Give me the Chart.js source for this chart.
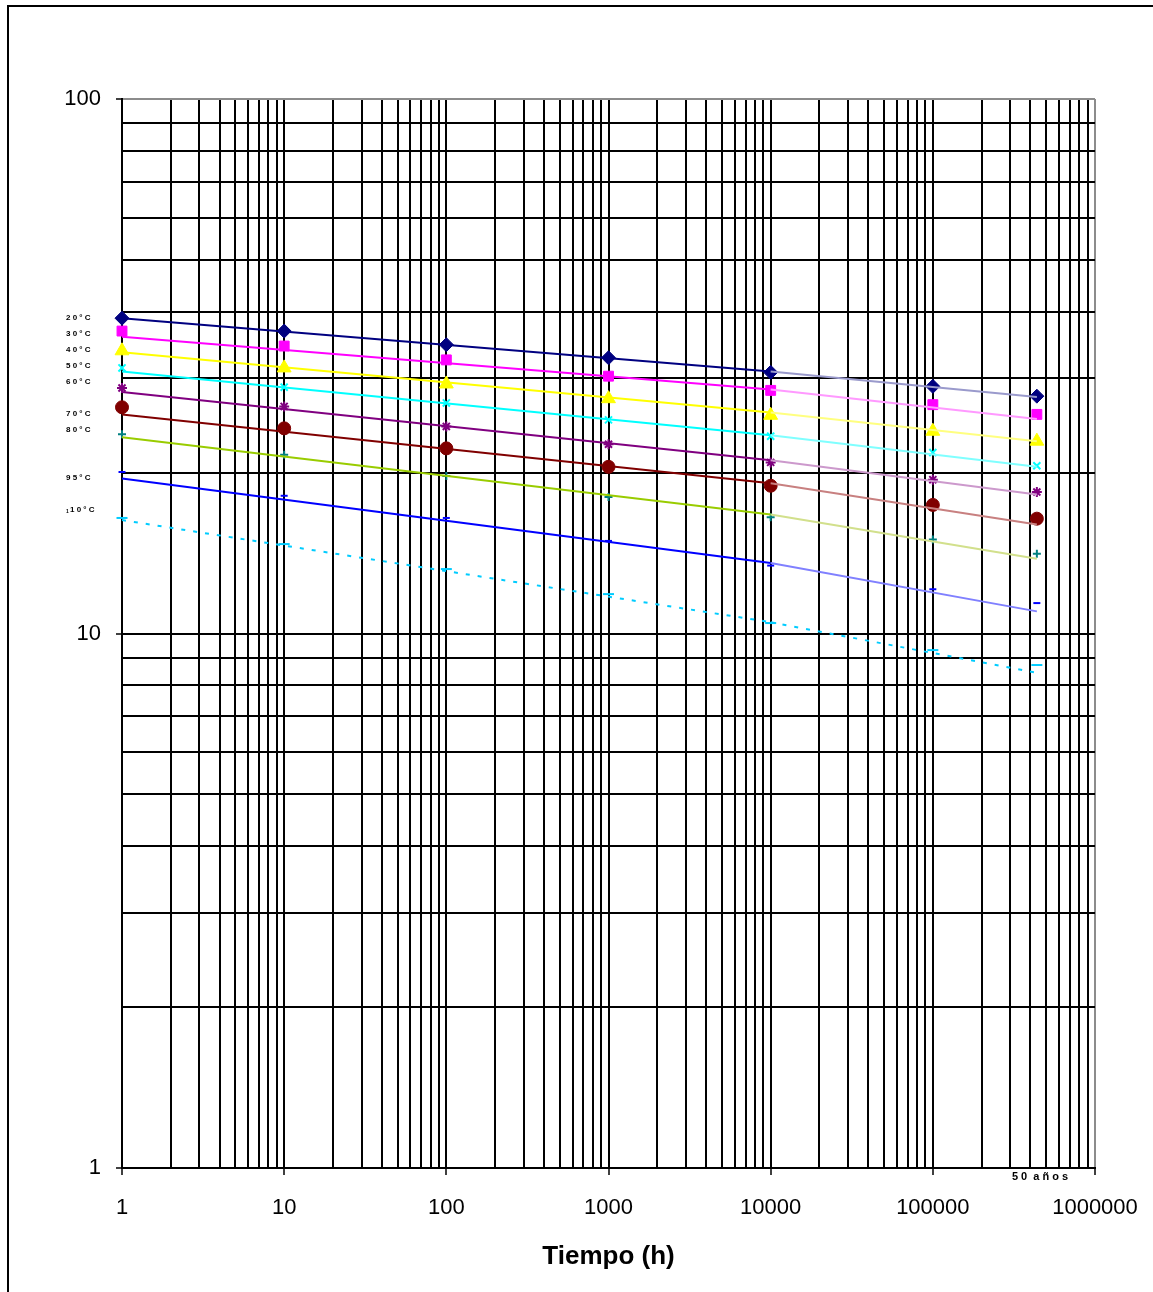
<!DOCTYPE html>
<html>
<head>
<meta charset="utf-8">
<script src="https://cdn.jsdelivr.net/npm/chart.js@4/dist/chart.umd.min.js"></script>
<style>
  html, body { margin: 0; padding: 0; background: #fff; overflow: hidden; }
  #wrap { position: relative; width: 1153px; height: 1292px; }
  #frame {
    position: absolute; left: 7px; top: 5px; width: 1200px; height: 1400px;
    border-left: 2px solid #000; border-top: 2px solid #000; pointer-events: none;
  }
  canvas { position: absolute; left: 0; top: 0; }
</style>
</head>
<body>
<div id="wrap">
  <canvas id="chart" width="1153" height="1292"></canvas>
  <div id="frame"></div>
</div>
<script>
'use strict';

// ── Data ─────────────────────────────────────────────────────────
const TEMPS = ['20 °C', '30 °C', '40 °C', '50 °C', '60 °C', '70 °C', '80 °C', '95 °C', '110 °C'];

// measured points (hours)
const HOURS = [1, 10, 100, 1000, 10000, 100000, 438000];

const POINTS_20  = [38.9, 36.8, 34.7, 32.8, 30.8, 29.0, 27.8];
const POINTS_30  = [36.8, 34.5, 32.5, 30.3, 28.5, 26.8, 25.7];
const POINTS_40  = [33.8, 31.4, 29.3, 27.5, 25.6, 23.9, 22.9];
const POINTS_50  = [31.4, 28.9, 27.0, 25.1, 23.4, 21.8, 20.6];
const POINTS_60  = [28.8, 26.6, 24.4, 22.6, 20.9, 19.4, 18.4];
const POINTS_70  = [26.5, 24.2, 22.2, 20.5, 18.9, 17.4, 16.4];
const POINTS_80  = [23.6, 21.6, 19.7, 18.0, 16.5, 15.0, 14.1];
const POINTS_95  = [20.05, 18.1, 16.45, 14.9, 13.4, 12.1, 11.4];
const POINTS_110 = [16.45, 14.7, 13.2, 11.85, 10.46, 9.31, 8.73];

// regression lines: value at 1 h, 10000 h and 50 years
const LINE_HOURS = [1, 10000, 438000];

const LINE_20  = [38.9, 30.9, 27.7];
const LINE_30  = [35.9, 28.6, 25.2];
const LINE_40  = [33.6, 25.9, 22.9];
const LINE_50  = [30.9, 23.5, 20.5];
const LINE_60  = [28.3, 21.1, 18.2];
const LINE_70  = [25.7, 19.1, 16.0];
const LINE_80  = [23.3, 16.7, 13.8];
const LINE_95  = [19.5, 13.55, 11.0];
const LINE_110 = [16.3, 10.5, 8.44];

const X_DECADES = [1, 10, 100, 1000, 10000, 100000, 1000000];
const Y_DECADES = [1, 10, 100];

// ── Styles ───────────────────────────────────────────────────────
const SERIES = [
  { pts: POINTS_20,  line: LINE_20,  color: '#000080', light: '#9a9acc', marker: '#000080', style: 'rectRot',  r: 7 },
  { pts: POINTS_30,  line: LINE_30,  color: '#ff00ff', light: '#ff99ff', marker: '#ff00ff', style: 'rect',     r: 7 },
  { pts: POINTS_40,  line: LINE_40,  color: '#ffff00', light: '#ffff80', marker: '#ffff00', style: 'triangle', r: 8 },
  { pts: POINTS_50,  line: LINE_50,  color: '#00ffff', light: '#80ffff', marker: '#00ffff', style: 'crossRot', r: 5 },
  { pts: POINTS_60,  line: LINE_60,  color: '#800080', light: '#cc99cc', marker: '#800080', style: 'star',     r: 5 },
  { pts: POINTS_70,  line: LINE_70,  color: '#800000', light: '#c88080', marker: '#800000', style: 'circle',   r: 6.5 },
  { pts: POINTS_80,  line: LINE_80,  color: '#99cc00', light: '#d2e08c', marker: '#008080', style: 'cross',    r: 4 },
  { pts: POINTS_95,  line: LINE_95,  color: '#0000ff', light: '#8080ff', marker: '#0000ff', style: 'line',     r: 3.5 },
  { pts: POINTS_110, line: LINE_110, color: '#00ccff', light: '#00ccff', marker: '#00ccff', style: 'line',     r: 5.5, dash: [4, 8] },
];

const LABEL_Y = [318, 334, 350, 366, 382, 414, 430, 478, 510];

function pairs(xs, ys) {
  return ys.map((y, i) => ({ x: xs[i], y }));
}

function allTicks(decades) {
  const out = [];
  decades.forEach((d, i) => {
    if (i === decades.length - 1) { out.push(d); return; }
    for (let m = 1; m <= 9; m++) out.push(d * m);
  });
  return out;
}

const STROKE_STYLES = ['crossRot', 'star', 'cross', 'line'];

const datasets = [];
SERIES.forEach((s, i) => {
  datasets.push({
    label: TEMPS[i] + ' linea',
    data: pairs(LINE_HOURS, s.line),
    borderColor: s.color,
    borderWidth: 2,
    borderDash: s.dash || [],
    pointRadius: 0,
    fill: false,
    tension: 0,
    clip: false,
    segment: {
      borderColor: ctx => (ctx.p0DataIndex >= 1 ? s.light : undefined),
    },
  });
  datasets.push({
    label: TEMPS[i],
    data: pairs(HOURS, s.pts),
    showLine: false,
    clip: false,
    pointStyle: s.style,
    pointRadius: s.r,
    pointBackgroundColor: s.marker,
    pointBorderColor: s.marker,
    pointBorderWidth: STROKE_STYLES.includes(s.style) ? 2 : 1,
  });
});

// ── Annotations (series labels, 50 años) ─────────────────────────
const labelsPlugin = {
  id: 'labels',
  afterDraw(chart) {
    const ctx = chart.ctx;
    ctx.save();
    ctx.fillStyle = '#000';
    ctx.textBaseline = 'middle';
    ctx.textAlign = 'left';
    ctx.font = 'bold 8px "Liberation Sans", Arial, sans-serif';
    TEMPS.forEach((t, i) => {
      const spaced = t.replace(' ', '').split('').join(' ');
      if (t.startsWith('110')) {
        ctx.font = 'bold 5px "Liberation Sans", Arial, sans-serif';
        ctx.fillText('1', 66, LABEL_Y[i] + 2);
        ctx.font = 'bold 8px "Liberation Sans", Arial, sans-serif';
        ctx.fillText(spaced.slice(2), 70, LABEL_Y[i]);
      } else {
        ctx.fillText(spaced, 66, LABEL_Y[i]);
      }
    });
    ctx.font = 'bold 11px "Liberation Sans", Arial, sans-serif';
    ctx.textAlign = 'center';
    ctx.fillText('5 0  a ñ o s', 1040, 1177);
    ctx.restore();
  },
};

const GRID_GRAY = '#8c8c8c';

new Chart(document.getElementById('chart').getContext('2d'), {
  type: 'line',
  data: { datasets },
  options: {
    responsive: false,
    animation: false,
    events: [],
    layout: { padding: { top: 99, right: 58, left: 0, bottom: 0 } },
    plugins: {
      legend: { display: false },
      tooltip: { enabled: false },
    },
    scales: {
      x: {
        type: 'logarithmic',
        min: 1,
        max: 1000000,
        afterBuildTicks: scale => { scale.ticks = allTicks(X_DECADES).map(v => ({ value: v })); },
        afterFit: scale => {
          scale.height = 124;
          scale.paddingLeft = 0;
          scale.paddingRight = 0;
        },
        grid: {
          color: c => (c.tick && c.tick.value === 1000000 ? GRID_GRAY : '#000'),
          lineWidth: 2,
          tickLength: 7,
          tickColor: c => (c.tick && X_DECADES.includes(c.tick.value) ? '#000' : 'rgba(0,0,0,0)'),
          tickWidth: 1.5,
        },
        border: { color: '#000', width: 2 },
        ticks: {
          autoSkip: false,
          maxRotation: 0,
          padding: 20,
          color: '#000',
          font: { family: '"Liberation Sans", Arial, sans-serif', size: 22 },
          callback: v => (X_DECADES.includes(v) ? String(v) : ''),
        },
        title: {
          display: true,
          text: 'Tiempo (h)',
          color: '#000',
          font: { family: '"Liberation Sans", Arial, sans-serif', size: 26, weight: 'bold' },
          padding: { top: 0, bottom: 20 },
        },
      },
      y: {
        type: 'logarithmic',
        min: 1,
        max: 100,
        afterBuildTicks: scale => { scale.ticks = allTicks(Y_DECADES).map(v => ({ value: v })); },
        afterFit: scale => {
          scale.width = 122;
          scale.paddingTop = 0;
          scale.paddingBottom = 0;
        },
        grid: {
          color: c => (c.tick && c.tick.value === 100 ? GRID_GRAY : '#000'),
          lineWidth: 2,
          tickLength: 6,
          tickColor: c => (c.tick && Y_DECADES.includes(c.tick.value) ? '#000' : 'rgba(0,0,0,0)'),
          tickWidth: 1.5,
        },
        border: { color: '#000', width: 2 },
        ticks: {
          autoSkip: false,
          padding: 15,
          color: '#000',
          font: { family: '"Liberation Sans", Arial, sans-serif', size: 22 },
          callback: v => (Y_DECADES.includes(v) ? String(v) : ''),
        },
      },
    },
  },
  plugins: [labelsPlugin],
});
</script>
</body>
</html>
